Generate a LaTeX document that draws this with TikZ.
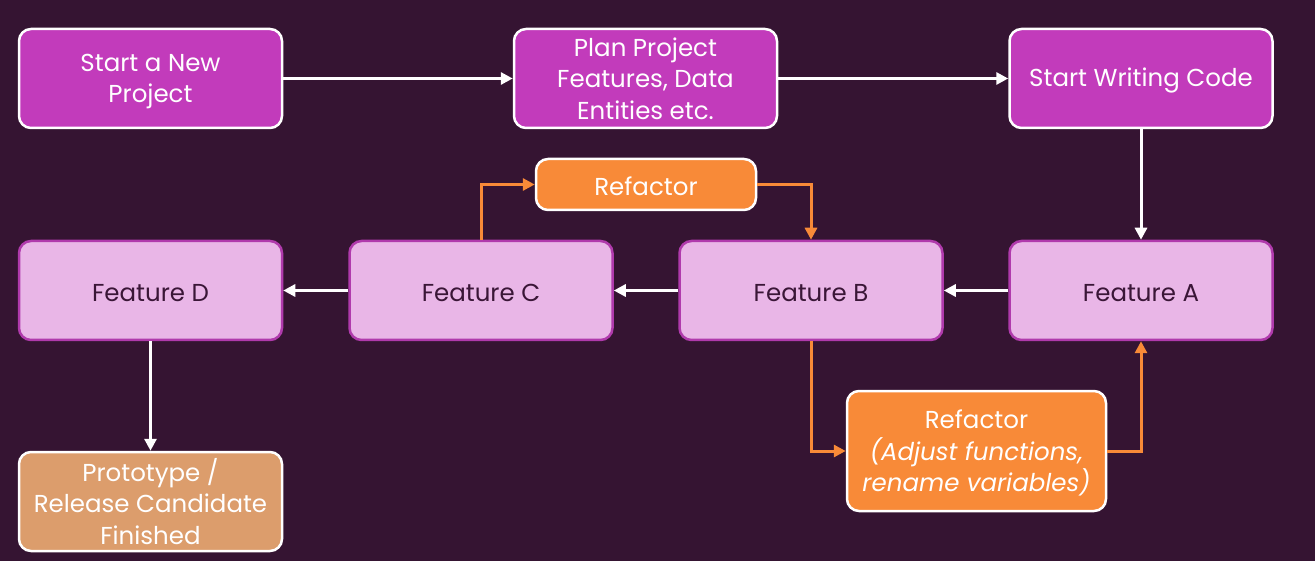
\documentclass[tikz,border=0pt]{standalone}
\usepackage{fontspec}
\setmainfont{Poppins}
\usetikzlibrary{arrows.meta}
\definecolor{bg}{HTML}{351432}
\definecolor{mag}{HTML}{C23BBB}
\definecolor{featfill}{HTML}{E9B6E7}
\definecolor{featdraw}{HTML}{B03AAC}
\definecolor{feattext}{HTML}{3A1637}
\definecolor{orng}{HTML}{F88A38}
\definecolor{proto}{HTML}{DC9D6C}
\newcommand{\nodepth}[1]{\raisebox{0pt}[\height][0pt]{#1}}
\tikzset{
  box/.style={rounded corners=12pt, line width=2.5pt, minimum width=263pt, minimum height=99pt, align=center, font=\fontsize{24.5}{31.5}\selectfont, inner sep=0pt, execute at begin node={\rule{0pt}{22pt}}},
  topbox/.style={box, fill=mag, draw=white, text=white},
  featbox/.style={box, fill=featfill, draw=featdraw, text=feattext},
  refbox/.style={box, fill=orng, draw=white, text=white},
  protobox/.style={box, fill=proto, draw=white, text=white},
  warr/.style={draw=white, line width=3pt, -{Triangle[length=12pt,width=12pt]}},
  oarr/.style={draw=orng, line width=3pt, -{Triangle[length=12pt,width=12pt]}},
}
\begin{document}
\begin{tikzpicture}[x=1pt,y=-1pt]
\fill[bg] (0,0) rectangle (1315,561);
\useasboundingbox (0,0) rectangle (1315,561);
\node[topbox] (start) at (150.5,78.5) {Start a New\\\nodepth{Project}};
\node[topbox] (plan) at (645.5,78.5) {Plan Project\\Features, Data\\Entities etc.};
\node[topbox] (write) at (1141,78.5) {Start Writing Code};
\node[featbox] (fa) at (1141,290.5) {Feature A};
\node[featbox] (fb) at (811,290.5) {Feature B};
\node[featbox] (fc) at (481,290.5) {Feature C};
\node[featbox] (fd) at (150.5,290.5) {Feature D};
\node[refbox, minimum width=220pt, minimum height=51pt] (r1) at (646,184.5) {Refactor};
\node[refbox, minimum width=259pt, minimum height=120pt] (r2) at (976.5,451) {Refactor\\\textit{(Adjust functions,}\\\nodepth{\textit{rename variables)}}};
\node[protobox] (pr) at (150.5,501.5) {Prototype /\\Release Candidate\\Finished};
\draw[warr] (start) -- (plan);
\draw[warr] (plan) -- (write);
\draw[warr] (write) -- (fa);
\draw[warr] (fa) -- (fb);
\draw[warr] (fb) -- (fc);
\draw[warr] (fc) -- (fd);
\draw[warr] (fd) -- (pr);
\draw[oarr] (fc.north) |- (r1.west);
\draw[oarr] (r1.east) -| (fb.north);
\draw[oarr] (fb.south) |- (r2.west);
\draw[oarr] (r2.east) -| (fa.south);
\end{tikzpicture}
\end{document}
